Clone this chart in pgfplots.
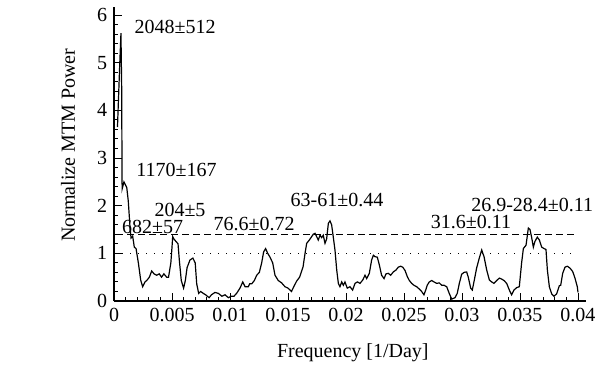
\documentclass[border=0pt]{standalone}
\usepackage{fontspec}
\setmainfont{Liberation Serif}
\usepackage{pgfplots}
\pgfplotsset{compat=1.18}
\begin{document}
\fontsize{15}{18}\selectfont
\begin{tikzpicture}
\begin{axis}[
  at={(0,0)}, anchor=south west,
  scale only axis, width=354pt, height=220.5pt,
  xmin=0, xmax=0.04069, ymin=0, ymax=6.167,
  axis lines*=left,
  axis line style={line width=0.9pt},
  tick style={line width=0.7pt, black},
  major tick length=6pt, minor tick length=3pt,
  tick align=inside,
  xtick={0,0.005,0.01,0.015,0.02,0.025,0.03,0.035,0.04},
  xticklabels={0,0.005,0.01,0.015,0.02,0.025,0.03,0.035,0.04},
  scaled x ticks=false,
  ytick={0,1,2,3,4,5,6},
  minor x tick num=4, minor y tick num=4,
  /pgf/number format/assume math mode=true,
  xlabel={Frequency [1/Day]},
  ylabel={Normalize MTM Power},
  xlabel style={at={(axis description cs:0.506,-0.177)}, anchor=center},
  ylabel style={at={(axis description cs:-0.0975,0.53)}, anchor=center},
  clip=false,
]
\addplot[black, line width=0.8pt, dash pattern=on 5.25pt off 3pt] coordinates {(0.0002,1.4) (0.04,1.4)};
\addplot[black, line width=1pt, dash pattern=on 1pt off 5pt] coordinates {(0.0007,1.0) (0.04,1.0)};
\addplot[black, line width=0.9pt] coordinates {
(0.0003,3.65) (0.0005,5.0) (0.0006,5.62) (0.00066,4.5) (0.0007,2.35) (0.00086,2.5)
(0.0011,2.38) (0.00123,2.1) (0.00138,1.55) (0.00147,1.32) (0.00161,1.36) (0.00175,1.13)
(0.0019,1.1) (0.0021,0.8) (0.0023,0.44) (0.00247,0.3) (0.00267,0.4) (0.00282,0.43)
(0.00305,0.5) (0.00325,0.63) (0.00345,0.57) (0.00368,0.54) (0.0039,0.57) (0.0041,0.5)
(0.0043,0.57) (0.00454,0.5) (0.0047,0.5) (0.0049,0.8) (0.005,1.13) (0.00506,1.35)
(0.00517,1.3) (0.00534,1.25) (0.00552,1.2) (0.00563,0.86) (0.0058,0.43) (0.006,0.27)
(0.00615,0.43) (0.0063,0.7) (0.00655,0.86) (0.0068,0.9) (0.007,0.8) (0.00713,0.36)
(0.0073,0.16) (0.00747,0.2) (0.0077,0.16) (0.0079,0.13) (0.0082,0.07) (0.0084,0.13)
(0.0087,0.18) (0.009,0.16) (0.0093,0.1) (0.00957,0.13) (0.00986,0.07) (0.0101,0.1)
(0.01034,0.1) (0.01057,0.16) (0.01086,0.27) (0.0111,0.4) (0.0113,0.3) (0.01158,0.3)
(0.0117,0.36) (0.01187,0.36) (0.0121,0.43) (0.0123,0.54) (0.01253,0.6) (0.01273,0.8)
(0.0129,1.03) (0.01307,1.1) (0.01325,1.0) (0.01345,0.92) (0.01368,0.8) (0.01388,0.54)
(0.01416,0.43) (0.01445,0.38) (0.01474,0.3) (0.015,0.27) (0.0153,0.2) (0.0155,0.3)
(0.01575,0.42) (0.016,0.5) (0.0163,0.72) (0.01647,1.0) (0.01661,1.21) (0.01684,1.28)
(0.01704,1.35) (0.01718,1.4) (0.01733,1.42) (0.01747,1.35) (0.01761,1.28) (0.01776,1.38)
(0.0179,1.33) (0.01804,1.38) (0.01819,1.21) (0.01833,1.3) (0.01848,1.63) (0.01862,1.68)
(0.01876,1.6) (0.0189,1.35) (0.01905,1.07) (0.0192,0.65) (0.01934,0.37) (0.01948,0.3)
(0.01963,0.4) (0.01977,0.33) (0.01991,0.4) (0.02011,0.27) (0.02034,0.3) (0.02057,0.23)
(0.02078,0.37) (0.02098,0.4) (0.02121,0.37) (0.02144,0.44) (0.02164,0.54) (0.02178,0.47)
(0.02201,0.58) (0.02221,0.86) (0.02236,0.96) (0.0225,0.93) (0.0227,0.92) (0.02287,0.76)
(0.02307,0.54) (0.02328,0.47) (0.02345,0.57) (0.02365,0.58) (0.02385,0.54) (0.02408,0.61)
(0.02431,0.65) (0.02451,0.71) (0.02471,0.73) (0.02489,0.71) (0.02509,0.64) (0.02529,0.51)
(0.02546,0.43) (0.02566,0.37) (0.02586,0.33) (0.02609,0.3) (0.02632,0.25) (0.02652,0.2)
(0.02672,0.13) (0.0269,0.25) (0.027,0.33) (0.02718,0.4) (0.02739,0.43) (0.02759,0.4)
(0.02782,0.37) (0.02804,0.38) (0.02825,0.33) (0.02845,0.33) (0.02868,0.3) (0.0289,0.16)
(0.02911,0.04) (0.0294,0.07) (0.02959,0.16) (0.02977,0.37) (0.02997,0.56) (0.03017,0.6)
(0.0304,0.61) (0.03054,0.5) (0.03075,0.27) (0.03089,0.23) (0.03103,0.4) (0.03126,0.69)
(0.03149,0.9) (0.0317,1.07) (0.0319,0.93) (0.03213,0.65) (0.03236,0.44) (0.03256,0.4)
(0.03276,0.37) (0.03299,0.43) (0.03322,0.48) (0.03342,0.46) (0.03362,0.43) (0.03385,0.37)
(0.03408,0.23) (0.03428,0.13) (0.03448,0.23) (0.03471,0.28) (0.03494,0.3) (0.03514,0.8)
(0.03529,1.1) (0.03552,1.17) (0.03572,1.53) (0.03586,1.5) (0.036,1.34) (0.03615,1.13)
(0.03629,1.25) (0.03649,1.34) (0.03667,1.28) (0.03687,1.13) (0.03707,1.1) (0.03724,1.08)
(0.03736,0.65) (0.03753,0.3) (0.03773,0.15) (0.03793,0.1) (0.03816,0.15) (0.03839,0.32)
(0.03851,0.33) (0.03868,0.58) (0.03888,0.71) (0.03908,0.73) (0.03931,0.69) (0.03954,0.62)
(0.03974,0.48) (0.03994,0.3) (0.0400,0.18)
};
\node[inner sep=0] at (axis cs:0.00526,5.75) {2048±512};
\node[inner sep=0] at (axis cs:0.00539,2.75) {1170±167};
\node[inner sep=0] at (axis cs:0.00569,1.91) {204±5};
\node[inner sep=0] at (axis cs:0.00332,1.55) {682±57};
\node[inner sep=0] at (axis cs:0.01207,1.62) {76.6±0.72};
\node[inner sep=0] at (axis cs:0.01922,2.12) {63-61±0.44};
\node[inner sep=0] at (axis cs:0.03078,1.66) {31.6±0.11};
\node[inner sep=0, anchor=east] at (axis cs:0.04133,2.01) {26.9-28.4±0.11};
\end{axis}
\pgfresetboundingbox
\useasboundingbox (-85.5pt,-56.25pt) rectangle (363pt,225.75pt);
\end{tikzpicture}
\end{document}
